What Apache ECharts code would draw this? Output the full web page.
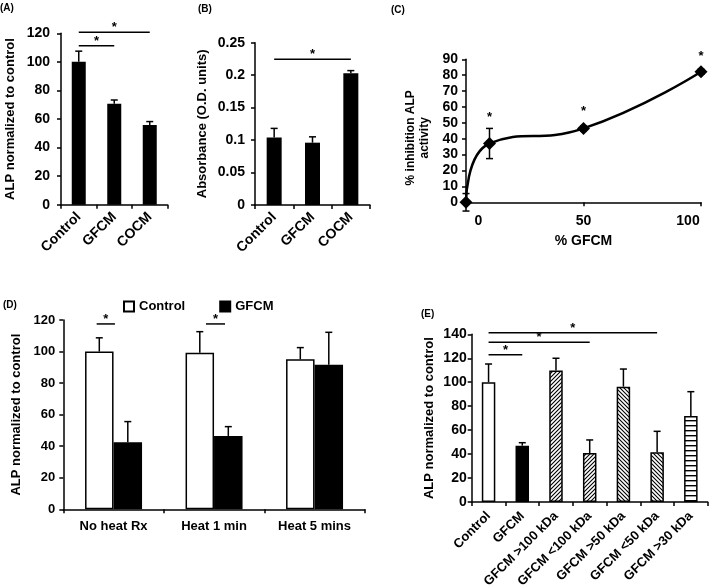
<!DOCTYPE html>
<html><head><meta charset="utf-8">
<script src="https://cdn.jsdelivr.net/npm/echarts@6/dist/echarts.min.js"></script>
<style>html,body{margin:0;padding:0;background:#fff}#c{width:709px;height:587px}</style>
</head><body><div id="c"></div>
<script>
// ---------- Panel A ----------
const aCategories = ['Control', 'GFCM', 'COCM'];
const aValues = [100, 70.7, 55.8];
const aErrors = [7.5, 2.6, 2.4];
const aSig = [[0, 2, 120.7], [0, 1, 111.3]];
// ---------- Panel B ----------
const bCategories = ['Control', 'GFCM', 'COCM'];
const bValues = [0.104, 0.096, 0.203];
const bErrors = [0.014, 0.009, 0.004];
const bSig = [[0, 2, 0.2244]];
// ---------- Panel C ----------
const cX = [0, 10, 50, 100];
const cY = [0, 37, 46.5, 82.2];
const cErrors = [5.5, 9.5, 1.5, 1.5];
const cStars = [[10, 53], [50, 57], [100, 91.6]];
const cXTicks = [0, 50, 100];
// ---------- Panel D ----------
const dCategories = ['No heat Rx', 'Heat 1 min', 'Heat 5 mins'];
const dControl = [100, 99.3, 95.1];
const dControlErr = [8.7, 13.3, 7.4];
const dGFCM = [42.5, 46.5, 91.7];
const dGFCMErr = [13.1, 5.9, 20.5];
const dSig = [[0, -0.168, 0.014, 117.5], [1, -0.08, 0.109, 117.5]];
// ---------- Panel E ----------
const eCategories = ['Control', 'GFCM', 'GFCM >100 kDa', 'GFCM <100 kDa', 'GFCM >50 kDa', 'GFCM <50 kDa', 'GFCM >30 kDa'];
const eValues = [100, 47, 109.7, 40.9, 96.3, 41.5, 71.8];
const eErrors = [15.2, 2.5, 10.3, 10.9, 14.7, 17.5, 20.3];
const eSig = [[0, 5, 141.3], [0, 3, 133.3], [0, 1, 123]];

const FONT = "'Liberation Sans', Arial, sans-serif";
const BLK = '#000';

function makePattern(kind) {
  const c = document.createElement('canvas');
  const ctx = c.getContext('2d');
  if (kind === 'h') {
    c.width = 4; c.height = 5;
    ctx.fillStyle = '#fff'; ctx.fillRect(0, 0, 4, 5);
    ctx.fillStyle = '#000'; ctx.fillRect(0, 0, 4, 1.4);
  } else {
    c.width = 4; c.height = 4;
    ctx.fillStyle = '#fff'; ctx.fillRect(0, 0, 4, 4);
    ctx.strokeStyle = '#000'; ctx.lineWidth = 1.1;
    ctx.beginPath();
    if (kind === 'f') {
      ctx.moveTo(-1, 5); ctx.lineTo(5, -1);
      ctx.moveTo(-1, 1); ctx.lineTo(1, -1);
      ctx.moveTo(3, 5); ctx.lineTo(5, 3);
    } else {
      ctx.moveTo(-1, -1); ctx.lineTo(5, 5);
      ctx.moveTo(3, -1); ctx.lineTo(5, 1);
      ctx.moveTo(-1, 3); ctx.lineTo(1, 5);
    }
    ctx.stroke();
  }
  return { image: c, repeat: 'repeat' };
}
const eFillStyles = ['#fff', '#000', makePattern('f'), makePattern('f'), makePattern('b'), makePattern('b'), makePattern('h')];

function errBars(offsetPx, capHalf, both) {
  return function (params, api) {
    const x = api.value(0), v = api.value(1), e = api.value(2);
    const p0 = api.coord([x, v]);
    const p1 = api.coord([x, v + e]);
    const cx = p0[0] + offsetPx;
    const st = { stroke: BLK, lineWidth: 1.5 };
    const ch = [
      { type: 'line', shape: { x1: cx, y1: p0[1], x2: cx, y2: p1[1] }, style: st },
      { type: 'line', shape: { x1: cx - capHalf, y1: p1[1], x2: cx + capHalf, y2: p1[1] }, style: st }
    ];
    if (both) {
      const p2 = api.coord([x, v - e]);
      ch.push({ type: 'line', shape: { x1: cx, y1: p0[1], x2: cx, y2: p2[1] }, style: st });
      ch.push({ type: 'line', shape: { x1: cx - capHalf, y1: p2[1], x2: cx + capHalf, y2: p2[1] }, style: st });
    }
    return { type: 'group', children: ch };
  };
}
function starText(x, y) {
  return { type: 'text', x: x, y: y, style: { text: '*', fill: BLK, font: 'bold 13px ' + FONT, align: 'center', verticalAlign: 'bottom' } };
}
function sigLines(params, api) {
  const a = api.coord([api.value(0), api.value(2)]);
  const b = api.coord([api.value(1), api.value(2)]);
  return { type: 'group', children: [
    { type: 'line', shape: { x1: a[0], y1: a[1], x2: b[0], y2: b[1] }, style: { stroke: BLK, lineWidth: 1.5 } },
    starText((a[0] + b[0]) / 2, a[1] + 2)
  ] };
}
function sigLinesFrac(params, api) {
  const c = api.coord([api.value(0), api.value(3)]);
  const bw = api.size([1, 0])[0];
  const x1 = c[0] + api.value(1) * bw, x2 = c[0] + api.value(2) * bw;
  return { type: 'group', children: [
    { type: 'line', shape: { x1: x1, y1: c[1], x2: x2, y2: c[1] }, style: { stroke: BLK, lineWidth: 1.5 } },
    starText((x1 + x2) / 2, c[1] + 2)
  ] };
}
function starsRender(params, api) {
  const p = api.coord([api.value(0), api.value(1)]);
  return starText(p[0], p[1] + 6);
}

const axisLine = { show: true, lineStyle: { color: BLK, width: 1.5 } };
const axisTick = { show: true, length: 4, lineStyle: { color: BLK, width: 1.5 } };
function lbl(size, extra) {
  return Object.assign({ color: BLK, fontFamily: FONT, fontWeight: 'bold', fontSize: size }, extra || {});
}
function nameStyle(size, extra) { return Object.assign({ color: BLK, fontFamily: FONT, fontWeight: 'bold', fontSize: size }, extra || {}); }

function catX(grid, data, size, rotate, margin) {
  return { gridIndex: grid, type: 'category', data: data, axisLine: axisLine, axisTick: axisTick,
    axisLabel: lbl(size, { rotate: rotate, margin: margin, interval: 0 }), splitLine: { show: false } };
}
function valY(grid, min, max, interval, size, margin, name, gap, nstyle) {
  return { gridIndex: grid, type: 'value', min: min, max: max, interval: interval,
    axisLine: axisLine, axisTick: axisTick, splitLine: { show: false },
    axisLabel: lbl(size, { margin: margin }),
    name: name, nameLocation: 'middle', nameRotate: 90, nameGap: gap, nameTextStyle: nstyle };
}
const richC = {
  z: { padding: [0, 0, 0, 25] },
  f: { padding: [0, 0, 0, 0] },
  h: { padding: [0, 26, 0, 0] }
};
Object.keys(richC).forEach(k => Object.assign(richC[k], { color: BLK, fontFamily: FONT, fontWeight: 'bold', fontSize: 14 }));

const option = {
  backgroundColor: '#fff',
  animation: false,
  textStyle: { fontFamily: FONT },
  grid: [
    { left: 61, top: 33.3, width: 106.5, height: 171.4, outerBoundsMode: 'none', containLabel: false },
    { left: 255, top: 42.7, width: 115, height: 162.3, outerBoundsMode: 'none', containLabel: false },
    { left: 466, top: 59.3, width: 235, height: 143, outerBoundsMode: 'none', containLabel: false },
    { left: 63.3, top: 320, width: 301.5, height: 189.3, outerBoundsMode: 'none', containLabel: false },
    { left: 471.7, top: 334.3, width: 236, height: 167.7, outerBoundsMode: 'none', containLabel: false }
  ],
  xAxis: [
    catX(0, aCategories, 14, 45, 10),
    catX(1, bCategories, 14, 45, 10),
    { gridIndex: 2, type: 'value', min: 0, max: 100, axisLine: axisLine, splitLine: { show: false },
      axisTick: Object.assign({ customValues: [50, 100] }, axisTick),
      axisLabel: lbl(14, { customValues: cXTicks, margin: 12,
        formatter: function (v) { return v === 0 ? '{z|0}' : (v === 100 ? '{h|100}' : '{f|' + v + '}'); },
        rich: richC }),
      name: '% GFCM', nameLocation: 'middle', nameGap: 32, nameTextStyle: nameStyle(14) },
    catX(3, dCategories, 13, 0, 11),
    catX(4, eCategories, 13, 45, 12)
  ],
  yAxis: [
    valY(0, 0, 120, 20, 14, 11, 'ALP normalized to control', 44, nameStyle(13)),
    valY(1, 0, 0.25, 0.05, 14, 10, 'Absorbance (O.D. units)', 46, nameStyle(13)),
    valY(2, 0, 90, 10, 14, 8, '% inhibition ALP\nactivity', 34, nameStyle(12, { padding: [0, 14, 0, 0], lineHeight: 14 })),
    valY(3, 0, 120, 20, 13, 8, 'ALP normalized to control', 40, nameStyle(13)),
    valY(4, 0, 140, 20, 14, 5, 'ALP normalized to control', 36, nameStyle(13))
  ],
  legend: {
    data: ['Control', 'GFCM'], left: 123, top: 300, padding: 0, icon: 'rect', itemWidth: 10, itemHeight: 10, itemGap: 34,
    textStyle: { color: BLK, fontFamily: FONT, fontWeight: 'bold', fontSize: 13 }
  },
  graphic: [
    { type: 'text', left: 0, top: 3, style: { text: '(A)', fill: BLK, font: 'bold 10px ' + FONT } },
    { type: 'text', left: 198, top: 4, style: { text: '(B)', fill: BLK, font: 'bold 10px ' + FONT } },
    { type: 'text', left: 391, top: 5, style: { text: '(C)', fill: BLK, font: 'bold 10px ' + FONT } },
    { type: 'text', left: 3, top: 300, style: { text: '(D)', fill: BLK, font: 'bold 10px ' + FONT } },
    { type: 'text', left: 421, top: 309, style: { text: '(E)', fill: BLK, font: 'bold 10px ' + FONT } }
  ],
  series: [
    // A
    { type: 'bar', xAxisIndex: 0, yAxisIndex: 0, data: aValues, barWidth: 14, itemStyle: { color: BLK } },
    { type: 'custom', xAxisIndex: 0, yAxisIndex: 0, renderItem: errBars(0, 3.5, false),
      data: aValues.map((v, i) => [i, v, aErrors[i]]), z: 3 },
    { type: 'custom', xAxisIndex: 0, yAxisIndex: 0, renderItem: sigLines, data: aSig, z: 3 },
    // B
    { type: 'bar', xAxisIndex: 1, yAxisIndex: 1, data: bValues, barWidth: 15, itemStyle: { color: BLK } },
    { type: 'custom', xAxisIndex: 1, yAxisIndex: 1, renderItem: errBars(0, 3.5, false),
      data: bValues.map((v, i) => [i, v, bErrors[i]]), z: 3 },
    { type: 'custom', xAxisIndex: 1, yAxisIndex: 1, renderItem: sigLines, data: bSig, z: 3 },
    // C
    { type: 'custom', xAxisIndex: 2, yAxisIndex: 2, renderItem: errBars(0, 3.5, true),
      data: cX.map((x, i) => [x, cY[i], cErrors[i]]), z: 1 },
    { type: 'line', xAxisIndex: 2, yAxisIndex: 2, data: cX.map((x, i) => [x, cY[i]]), smooth: 0.5,
      symbol: 'diamond', symbolSize: 13, lineStyle: { color: BLK, width: 2.5 }, itemStyle: { color: BLK }, z: 2 },
    { type: 'custom', xAxisIndex: 2, yAxisIndex: 2, renderItem: starsRender, data: cStars, z: 3 },
    // D
    { name: 'Control', type: 'bar', xAxisIndex: 3, yAxisIndex: 3, data: dControl, barWidth: 28.5, barGap: '0%',
      itemStyle: { color: '#fff', borderColor: BLK, borderWidth: 1.5 } },
    { name: 'GFCM', type: 'bar', xAxisIndex: 3, yAxisIndex: 3, data: dGFCM, barWidth: 28.5, barGap: '0%',
      itemStyle: { color: BLK, borderColor: BLK, borderWidth: 1.5 } },
    { type: 'custom', xAxisIndex: 3, yAxisIndex: 3, renderItem: errBars(-14.25, 3.5, false),
      data: dControl.map((v, i) => [i, v, dControlErr[i]]), z: 3 },
    { type: 'custom', xAxisIndex: 3, yAxisIndex: 3, renderItem: errBars(14.25, 3.5, false),
      data: dGFCM.map((v, i) => [i, v, dGFCMErr[i]]), z: 3 },
    { type: 'custom', xAxisIndex: 3, yAxisIndex: 3, renderItem: sigLinesFrac, data: dSig, z: 3 },
    // E
    { type: 'bar', xAxisIndex: 4, yAxisIndex: 4, barWidth: 13.5,
      data: eValues.map((v, i) => ({ value: v, itemStyle: { color: eFillStyles[i] } })),
      itemStyle: { borderColor: BLK, borderWidth: 1.5 } },
    { type: 'custom', xAxisIndex: 4, yAxisIndex: 4, renderItem: errBars(0, 3.5, false),
      data: eValues.map((v, i) => [i, v, eErrors[i]]), z: 3 },
    { type: 'custom', xAxisIndex: 4, yAxisIndex: 4, renderItem: sigLines, data: eSig, z: 3 }
  ]
};
const chart = echarts.init(document.getElementById('c'), null, { renderer: 'canvas' });
chart.setOption(option);
</script>
</body></html>
